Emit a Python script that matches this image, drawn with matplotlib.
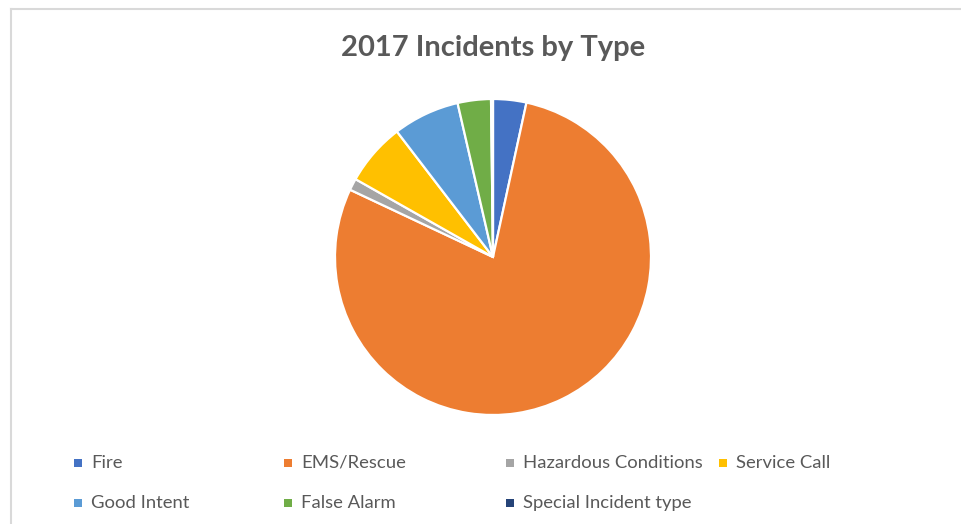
import matplotlib.pyplot as plt
from matplotlib.lines import Line2D
from matplotlib.patches import Rectangle

# incident share by type, percent of all 2017 calls
categories = ["Fire", "EMS/Rescue", "Hazardous Conditions", "Service Call",
              "Good Intent", "False Alarm", "Special Incident type"]
shares = [3.4, 78.6, 1.2, 6.4, 6.8, 3.4, 0.2]
colors = ["#4472C4", "#ED7D31", "#A5A5A5", "#FFC000",
          "#5B9BD5", "#70AD47", "#264478"]

plt.rcParams["font.family"] = ["Lato", "DejaVu Sans"]
W, H = 961, 524
fig = plt.figure(figsize=(W / 100, H / 100), dpi=100)

# chart area frame (left and top edges show)
fig.add_artist(Line2D([11 / W, 11 / W], [0, 1 - 9 / H], color="#d9d9d9", lw=1.5))
fig.add_artist(Line2D([11 / W, 1], [1 - 9 / H, 1 - 9 / H], color="#d9d9d9", lw=1.5))

cx, cy, r = 493, 257, 158
ax = fig.add_axes([(cx - r) / W, 1 - (cy + r) / H, 2 * r / W, 2 * r / H])
ax.pie(shares, colors=colors, startangle=90, counterclock=False,
       wedgeprops=dict(edgecolor="white", linewidth=1.6))
ax.set_xlim(-1, 1)
ax.set_ylim(-1, 1)
ax.set_aspect("equal")
ax.axis("off")

fig.text(493 / W, 1 - 48 / H, "2017 Incidents by Type", ha="center", va="center",
         fontsize=21, fontweight="bold", color="#595959")

# legend, four columns over two rows
col_x = [78, 288, 510, 723]
row_y = [463, 503]
for i, (lab, c) in enumerate(zip(categories, colors)):
    x = col_x[i % 4]
    y = row_y[i // 4]
    fig.add_artist(Rectangle(((x - 4) / W, 1 - (y + 4) / H), 8 / W, 8 / H,
                             facecolor=c, edgecolor="none"))
    fig.text((x + 13) / W, 1 - y / H, lab, ha="left", va="center",
             fontsize=13.3, color="#595959")

fig.savefig("out.png", dpi=100)
